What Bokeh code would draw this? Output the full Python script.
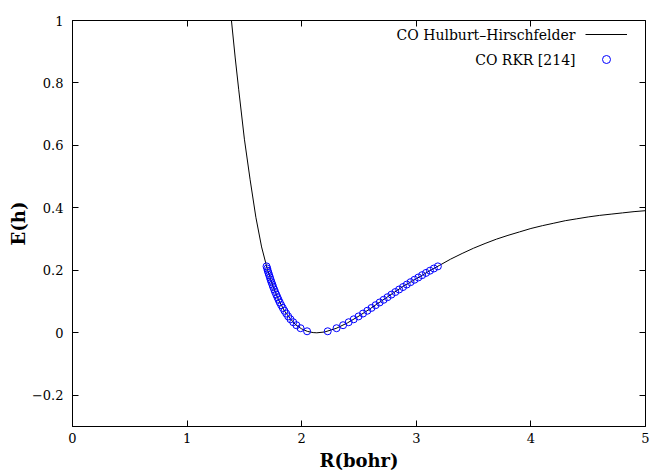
from bokeh.plotting import figure
from bokeh.models import (Range1d, LinearAxis, FixedTicker, CustomJSTickFormatter,
                          Legend, LegendItem, Label)
from bokeh.embed import file_html
from bokeh.resources import INLINE

# Hulburt-Hirschfelder potential curve
hh_r = [1.35, 1.387, 1.42, 1.45, 1.50, 1.55, 1.60, 1.65, 1.70, 1.75, 1.80, 1.85,
        1.90, 1.95, 2.00, 2.05, 2.10, 2.132, 2.20, 2.30, 2.40, 2.50, 2.60, 2.70,
        2.80, 2.90, 3.00, 3.10, 3.20, 3.30, 3.40, 3.50, 3.60, 3.70, 3.80, 3.90,
        4.00, 4.10, 4.20, 4.30, 4.40, 4.50, 4.60, 4.70, 4.80, 4.90, 5.00]
hh_e = [1.12, 1.00, 0.88, 0.78, 0.62, 0.49, 0.37, 0.275, 0.204, 0.148, 0.104, 0.070,
        0.045, 0.025, 0.0125, 0.0045, 0.0007, 0.0, 0.0026, 0.0141, 0.0319, 0.0538, 0.0778, 0.1028,
        0.1278, 0.1522, 0.173, 0.195, 0.2155, 0.236, 0.254, 0.271, 0.286, 0.300, 0.312, 0.323,
        0.334, 0.343, 0.351, 0.359, 0.365, 0.371, 0.376, 0.380, 0.384, 0.388, 0.391]

# RKR turning points
rkr_e = [0.0049, 0.0147, 0.0243, 0.0339, 0.0433, 0.0525, 0.0617, 0.0707, 0.0797,
         0.0885, 0.0971, 0.1057, 0.1141, 0.1224, 0.1306, 0.1387, 0.1466, 0.1545,
         0.1622, 0.1698, 0.1772, 0.1846, 0.1918, 0.1989, 0.2059, 0.2127]
rkr_rmin = [2.047, 1.990, 1.954, 1.926, 1.902, 1.882, 1.865, 1.849, 1.835, 1.821,
            1.809, 1.798, 1.788, 1.778, 1.768, 1.760, 1.751, 1.744, 1.736, 1.729,
            1.723, 1.716, 1.710, 1.704, 1.699, 1.693]
rkr_rmax = [2.227, 2.304, 2.361, 2.410, 2.454, 2.496, 2.535, 2.573, 2.609, 2.645,
            2.680, 2.715, 2.749, 2.783, 2.817, 2.850, 2.884, 2.917, 2.950, 2.984,
            3.018, 3.051, 3.085, 3.119, 3.153, 3.188]

x_ticks = [0, 1, 2, 3, 4, 5]
y_ticks = [-0.2, 0, 0.2, 0.4, 0.6, 0.8, 1.0]
legend_labels = ["CO Hulburt\u2013Hirschfelder", "CO RKR [214]"]

FONT = "DejaVu Serif"

p = figure(width=650, height=473, output_backend="svg", toolbar_location=None,
           x_range=Range1d(0, 5), y_range=Range1d(-0.3, 1.0),
           min_border_left=72, min_border_right=5, min_border_top=20, min_border_bottom=46)
p.xgrid.visible = False
p.ygrid.visible = False
p.outline_line_color = "black"
p.outline_line_width = 1
p.background_fill_color = "white"
p.border_fill_color = "white"

line_r = p.line(hh_r, hh_e, line_color="black", line_width=1)
pts_r = p.scatter(rkr_rmin + rkr_rmax, rkr_e + rkr_e, marker="circle", size=7,
                  fill_color=None, line_color="blue", line_width=1)

yfmt = CustomJSTickFormatter(code="""
var s;
if (Math.abs(tick) < 1e-9) { s = "0"; }
else if (Math.abs(tick - 1) < 1e-9) { s = "1"; }
else { s = tick.toFixed(1); }
return s.replace("-", "\\u2212");
""")
blank = CustomJSTickFormatter(code="return '';")

for ax in p.xaxis:
    ax.ticker = FixedTicker(ticks=x_ticks)
for ax in p.yaxis:
    ax.ticker = FixedTicker(ticks=y_ticks)
    ax.formatter = yfmt

for ax in list(p.xaxis) + list(p.yaxis):
    ax.major_tick_in = 6
    ax.major_tick_out = 0
    ax.minor_tick_line_color = None
    ax.axis_line_color = "black"
    ax.major_tick_line_color = "black"
    ax.major_label_text_font = FONT
    ax.major_label_text_font_size = "13px"
    ax.major_label_text_color = "black"
    ax.axis_label_text_font = FONT
    ax.axis_label_text_font_size = "18px"
    ax.axis_label_text_font_style = "bold"
    ax.axis_label_text_color = "black"

p.xaxis.axis_label = "R(bohr)"
p.yaxis.axis_label = "E(h)"
p.xaxis.major_label_standoff = 6
p.yaxis.major_label_standoff = 9
p.xaxis.axis_label_standoff = 4
p.yaxis.axis_label_standoff = 0

# mirrored ticks on top and right
top = LinearAxis(ticker=FixedTicker(ticks=x_ticks), formatter=blank,
                 major_tick_in=6, major_tick_out=0,
                 minor_tick_line_color=None, major_label_standoff=0, axis_line_color=None)
right = LinearAxis(ticker=FixedTicker(ticks=y_ticks), formatter=blank,
                   major_tick_in=6, major_tick_out=0,
                   minor_tick_line_color=None, major_label_standoff=0, axis_line_color=None)
p.add_layout(top, "above")
p.add_layout(right, "right")

# legend: samples on the right, text right-aligned to their left
legend = Legend(items=[LegendItem(label="", renderers=[line_r]),
                       LegendItem(label="", renderers=[pts_r])],
                location=(513, 357), orientation="vertical",
                glyph_width=42, glyph_height=20, label_height=20, label_width=1,
                label_standoff=0, spacing=5, padding=0, margin=0,
                border_line_color=None, background_fill_alpha=0,
                label_text_font_size="13px")
p.add_layout(legend, "center")

for txt, yy in zip(legend_labels, [392, 367]):
    p.add_layout(Label(x=503, y=yy, x_units="screen", y_units="screen", text=txt,
                       text_align="right", text_baseline="middle",
                       text_font=FONT, text_font_size="14px", text_color="black"))

open("out.html", "w").write(file_html(p, INLINE))
